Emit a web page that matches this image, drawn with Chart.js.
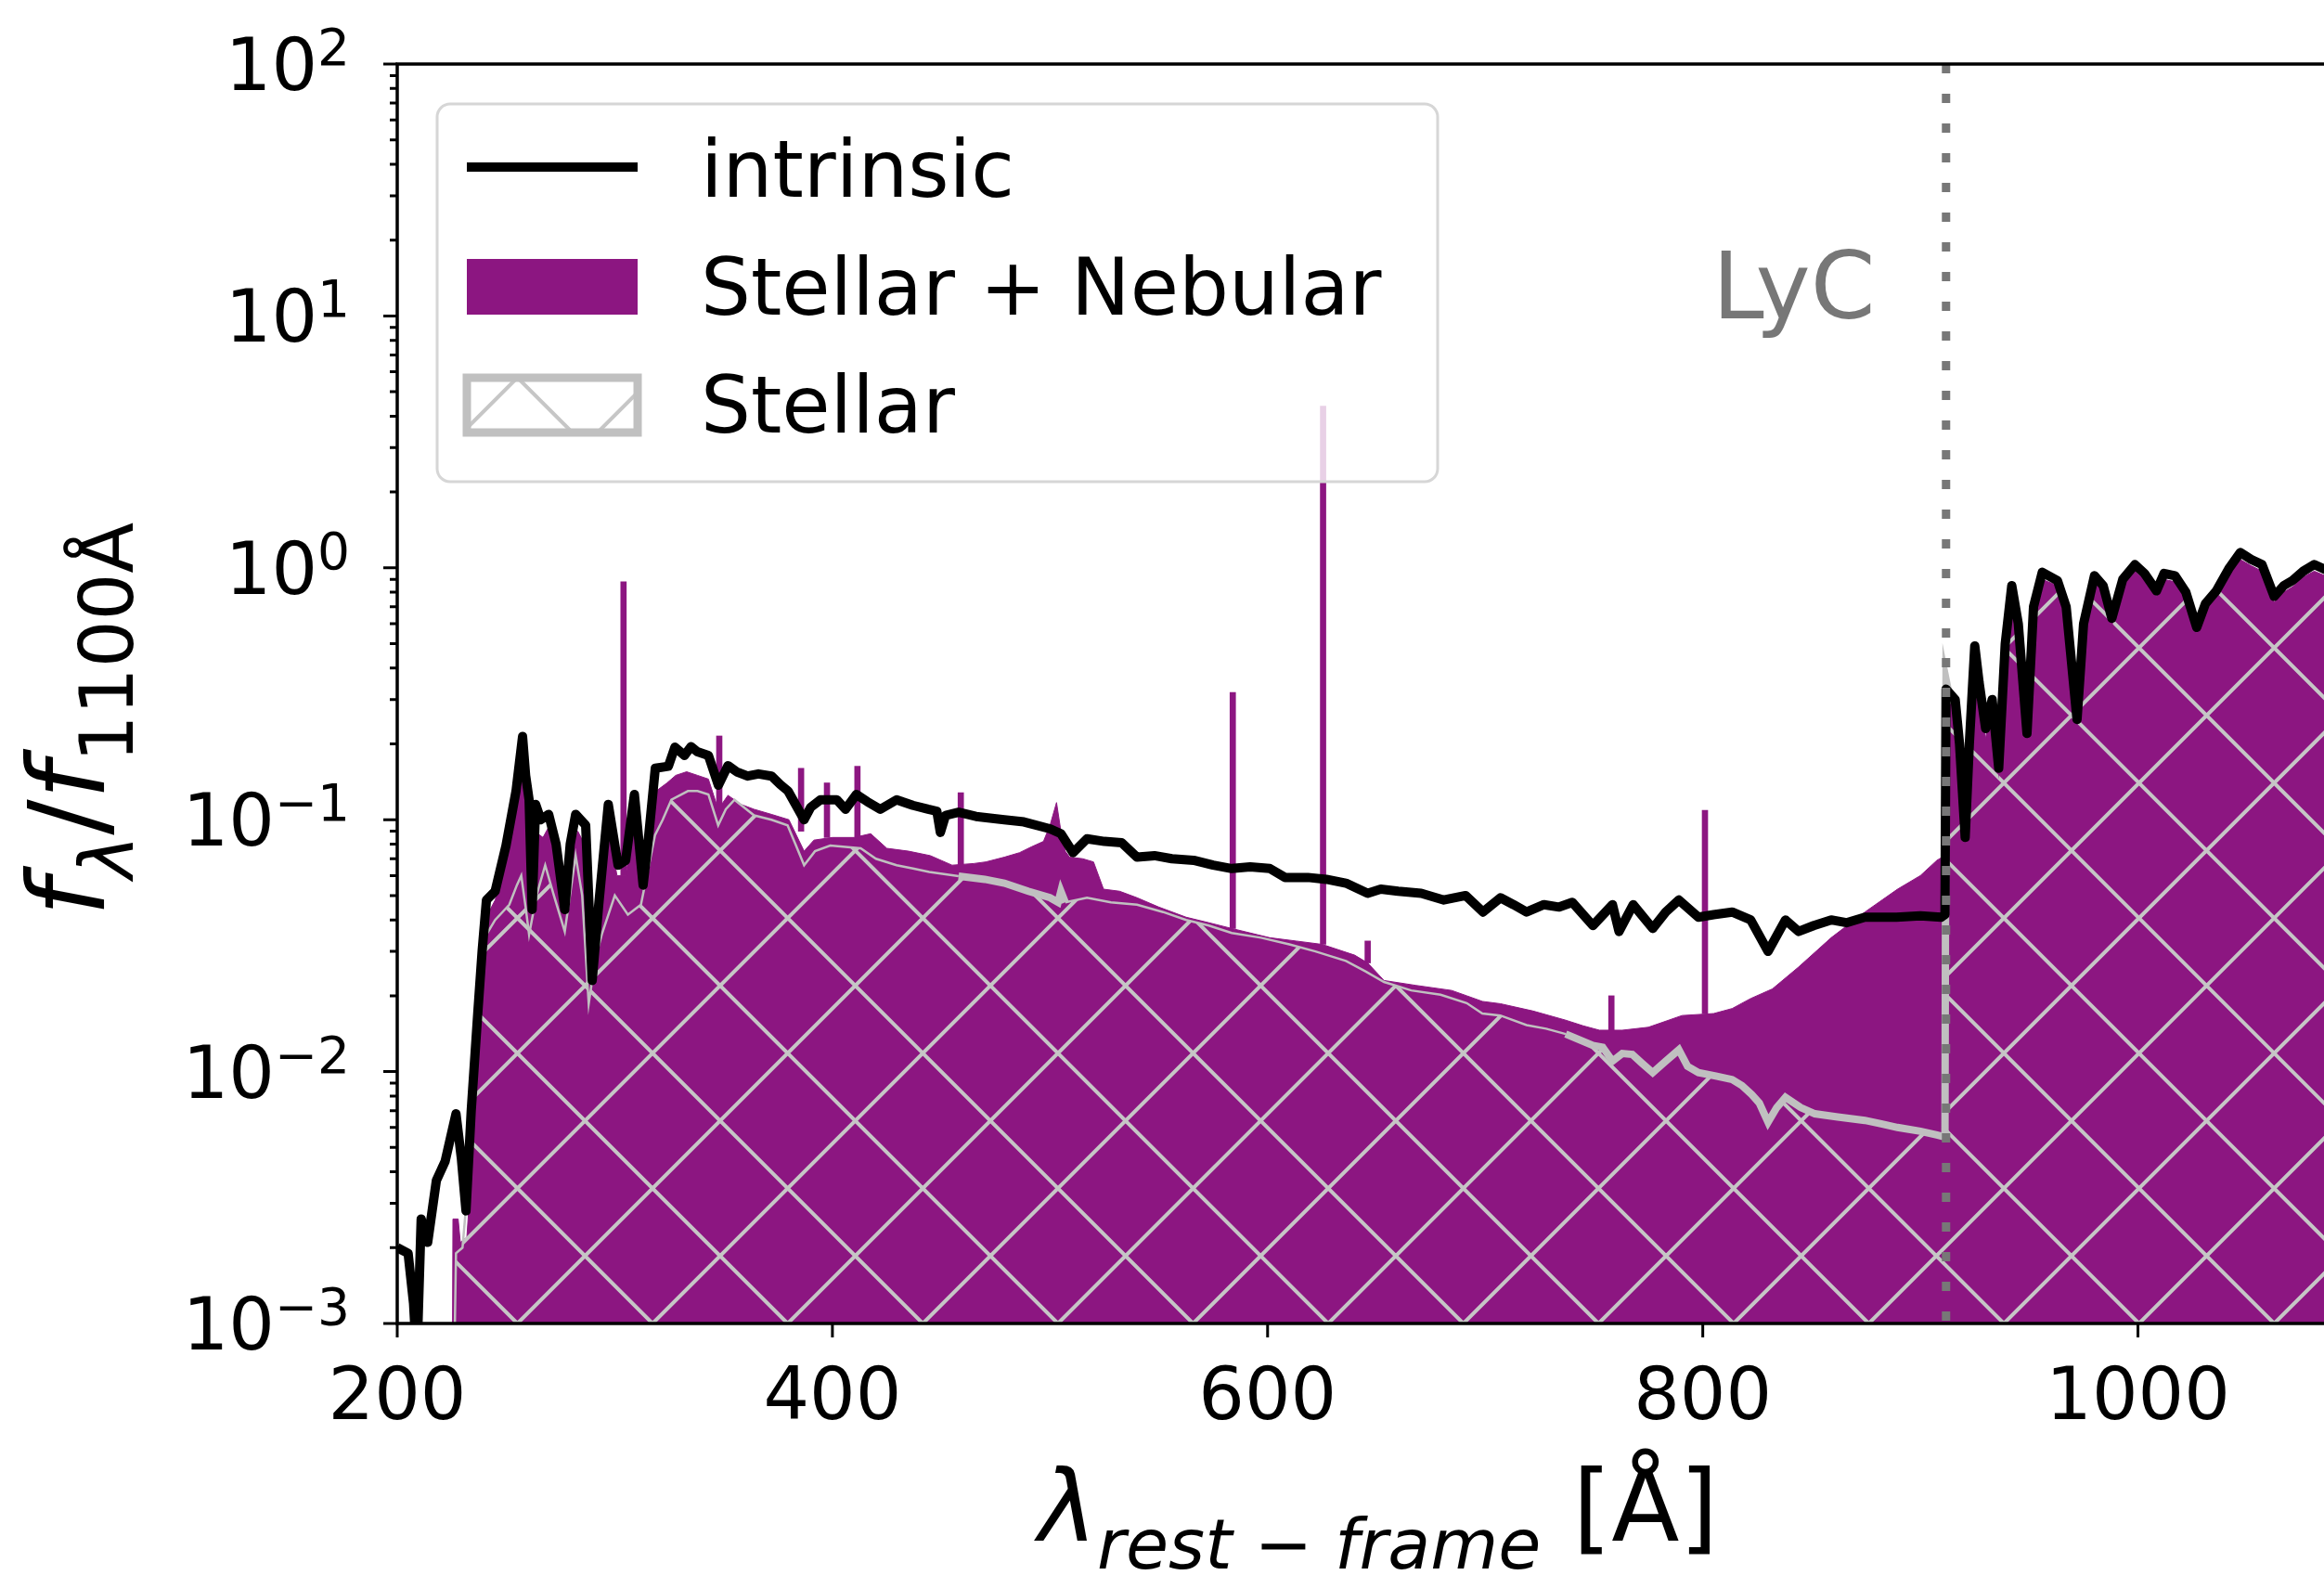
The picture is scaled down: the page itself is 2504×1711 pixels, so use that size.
<!DOCTYPE html>
<html>
<head>
<meta charset="utf-8">
<script src="https://cdn.jsdelivr.net/npm/chart.js@4"></script>
<style>
html, body { margin: 0; padding: 0; background: #fff; overflow: hidden; }
#wrap { position: relative; width: 2560px; height: 1711px; }
</style>
</head>
<body>
<div id="wrap"><canvas id="sed"></canvas></div>
<script>
// [wavelength in Angstrom, f_lambda / f_1100]
const intrinsic = [
  [200,0.0020],[205,0.0019],[207.5,0.0012],[209,0.0007],[211,0.0026],[214,0.0021],[218,0.0037],[222,0.0044],
  [227,0.0068],[229.5,0.0045],[231.6,0.0028],[234,0.0070],[237,0.017],[239,0.030],[241,0.048],[245,0.052],
  [250,0.079],[254.6,0.13],[257.6,0.214],[259,0.15],[260.6,0.12],[262,0.044],[263.6,0.115],[266,0.10],
  [269.6,0.105],[273,0.08],[277,0.044],[279.5,0.08],[282,0.105],[286.6,0.095],[289.6,0.023],[292.6,0.046],
  [297,0.115],[301.5,0.066],[305,0.069],[309,0.126],[313,0.055],[315.6,0.087],[318.6,0.16],[324.6,0.163],
  [327.6,0.194],[332,0.18],[335,0.195],[338,0.186],[343,0.18],[347.6,0.137],[352,0.164],[356,0.155],
  [361,0.149],[366,0.152],[372,0.149],[376,0.138],[379.6,0.130],[387,0.10],[390,0.112],[394.5,0.12],
  [402,0.12],[406,0.11],[411,0.126],[416,0.118],[422,0.11],[429.5,0.12],[437,0.114],[444,0.110],
  [448,0.108],[449.6,0.089],[452,0.104],[458,0.107],[466,0.103],[479,0.10],[488,0.098],[500,0.092],
  [505,0.088],[510.6,0.074],[517,0.084],[525,0.082],[533,0.081],[540,0.071],[548,0.072],[556,0.070],
  [566,0.069],[575,0.066],[583.5,0.064],[592,0.065],[601,0.064],[608,0.059],[618.5,0.059],[627,0.058],
  [636,0.056],[646,0.051],[652,0.053],[660,0.052],[670.6,0.051],[681,0.048],[691,0.050],[699,0.043],
  [707,0.049],[713,0.046],[719,0.043],[727,0.046],[734,0.045],[740,0.047],[749.5,0.038],[758.5,0.046],
  [761.5,0.036],[768,0.046],[777,0.037],[783,0.043],[789,0.048],[798,0.041],[805,0.042],[813.5,0.043],
  [822,0.040],[830,0.030],[838,0.040],[844,0.036],[851,0.038],[859,0.040],[866,0.039],[874.5,0.041],
  [889,0.041],[900,0.0415],[909.5,0.041],[911.3,0.042],[911.8,0.33],[916,0.30],[918,0.20],[920.6,0.085],
  [922.5,0.2],[925,0.49],[927,0.35],[930,0.23],[933,0.3],[936,0.16],[939,0.5],[942,0.85],
  [945,0.6],[949,0.22],[952,0.7],[956,0.96],[963,0.89],[967,0.7],[972,0.25],[975,0.6],
  [980,0.93],[984,0.85],[988,0.63],[993,0.9],[998.6,1.03],[1003,0.95],[1008.5,0.81],[1012,0.95],
  [1017,0.93],[1022,0.8],[1027,0.58],[1031,0.72],[1036,0.81],[1042,1.0],[1047,1.15],[1052,1.08],
  [1057,1.03],[1062.6,0.77],[1067,0.85],[1071,0.89],[1076,0.97],[1081,1.03],[1090,0.95],[1100,1.0]
];

// stellar + nebular continuum (purple area)
const stellarNebular = [
  [225.4,0.001],[225.6,0.0026],[228,0.0026],[229,0.0021],[232,0.0022],[234,0.004],[236,0.013],[239,0.028],
  [241.5,0.042],[245,0.048],[250,0.07],[254,0.11],[257,0.17],[259,0.12],[261,0.05],[263,0.09],
  [267,0.085],[270,0.095],[273,0.07],[277,0.045],[280,0.075],[283,0.09],[286,0.08],[289,0.025],
  [292,0.042],[297,0.095],[301,0.06],[305,0.06],[309,0.1],[313,0.05],[316,0.08],[319,0.13],
  [324,0.14],[328,0.15],[333,0.155],[338,0.15],[343,0.145],[347.5,0.11],[352,0.125],[358,0.115],
  [364,0.11],[372,0.105],[380,0.10],[387,0.075],[391.5,0.083],[400,0.085],[410,0.085],[417.6,0.088],
  [425,0.077],[435,0.075],[445,0.072],[455,0.066],[465,0.067],[470.5,0.068],[479,0.071],[486,0.074],
  [491.4,0.078],[497,0.082],[500,0.095],[503,0.117],[505,0.09],[507,0.075],[509,0.071],[515,0.07],
  [520,0.068],[524.6,0.053],
  [532,0.052],[540,0.049],[550,0.045],[562.6,0.041],[573,0.039],[583.5,0.037],[601,0.034],[613,0.033],
  [625,0.032],[640,0.029],[646,0.027],[653.5,0.023],[668,0.022],[684.6,0.021],[691.5,0.020],[698.7,0.019],
  [707,0.0186],[722,0.0174],[737,0.016],[745,0.0152],[752.5,0.0146],[763,0.0146],[775,0.015],[790.5,0.0167],
  [805,0.017],[813.5,0.0178],[822,0.0195],[832,0.0213],[844,0.026],[859,0.034],[874.5,0.043],[889.5,0.053],
  [900,0.060],[907.6,0.069],[911.3,0.072],[911.8,0.39],[914,0.30],[917,0.28],[920,0.12],[922.5,0.19],
  [925,0.45],[928,0.3],[930,0.21],[933,0.28],[936,0.15],[939,0.45],[942,0.8],[945,0.55],
  [949,0.21],[952,0.65],[956,0.9],[963,0.85],[967,0.66],[972,0.24],[975,0.56],[980,0.88],
  [984,0.8],[988,0.6],[993,0.85],[998.6,0.97],[1003,0.9],[1008.5,0.77],[1012,0.9],[1017,0.88],
  [1022,0.75],[1027,0.55],[1031,0.68],[1036,0.77],[1042,0.95],[1047,1.08],[1052,1.02],[1057,0.97],
  [1062.6,0.73],[1067,0.8],[1071,0.84],[1076,0.92],[1081,0.97],[1090,0.9],[1100,0.95]
];

// nebular emission lines: [wavelength, base, peak]
const emissionLines = [
  [304,0.06,0.88],[348,0.11,0.215],[385.6,0.09,0.16],[397.5,0.085,0.14],[411.5,0.085,0.163],
  [459,0.066,0.128],[584,0.037,0.32],[625.5,0.032,4.38],[646,0.027,0.033],[758,0.0146,0.02],[801,0.017,0.109]
];

// stellar only (hatched area)
const stellar = [
  [226.5,0.001],[227,0.0019],[230,0.0020],[233,0.004],[236,0.0118],[238.5,0.022],[241,0.035],[245,0.04],
  [251.5,0.046],[255,0.055],[257,0.06],[259,0.045],[260.6,0.035],[264,0.05],[268,0.066],[272,0.05],
  [277,0.036],[282,0.072],[285,0.05],[288,0.0186],[291,0.028],[294,0.035],[300,0.050],[306,0.042],
  [312,0.046],[318.5,0.087],[322,0.10],[326,0.12],[333.6,0.13],[338,0.13],[343,0.126],[347.5,0.095],
  [351,0.11],[355,0.12],[364,0.104],[372,0.10],[379.4,0.095],[383,0.08],[387,0.066],[392,0.075],
  [399,0.079],[413,0.077],[420,0.07],[429.5,0.066],[437,0.064],[444.5,0.062],[458,0.0597],[470,0.058],
  [479,0.056],[490,0.052],[500,0.049],[503.7,0.047],[505,0.052],[507,0.047],[517,0.049],[528,0.047],
  [540,0.046],[552,0.043],[562.6,0.040],[573,0.038],[583.5,0.0355],[597,0.034],[610,0.032],[622,0.030],
  [636,0.0275],[645,0.025],[653.5,0.0227],[666,0.021],[679.5,0.0202],[691.5,0.0187],[698.7,0.017],[707,0.0167],
  [719,0.0153],[728,0.0148],[737,0.0141],[749.5,0.0127],[754,0.0125],[758.5,0.011],[763,0.0118],[767.6,0.0117],
  [772,0.0108],[777,0.0099],[783,0.011],[789,0.0122],[793,0.0105],[798,0.0099],[806,0.0096],[813.5,0.0093],
  [818,0.0088],[822.5,0.0081],[826,0.0075],[830,0.0063],[834,0.0072],[838,0.0079],[845,0.0072],[851.5,0.0068],
  [862,0.0066],[874.5,0.0064],[882,0.0062],[889.5,0.006],[900,0.0058],[907.6,0.0056],[911.3,0.0055],[911.8,0.36],
  [914,0.29],[917,0.27],[920,0.11],[922.5,0.18],[925,0.43],[928,0.29],[930,0.2],[933,0.27],
  [936,0.145],[939,0.43],[942,0.78],[945,0.53],[949,0.2],[952,0.63],[956,0.88],[963,0.83],
  [967,0.64],[972,0.23],[975,0.54],[980,0.86],[984,0.78],[988,0.58],[993,0.83],[998.6,0.95],
  [1003,0.88],[1008.5,0.75],[1012,0.88],[1017,0.86],[1022,0.73],[1027,0.53],[1031,0.66],[1036,0.75],
  [1042,0.93],[1047,1.06],[1052,1.0],[1057,0.95],[1062.6,0.71],[1067,0.78],[1071,0.82],[1076,0.9],
  [1081,0.95],[1090,0.88],[1100,0.93]
];

const xTicks = [200, 400, 600, 800, 1000];
const yDecades = [1e2, 1e1, 1e0, 1e-1, 1e-2, 1e-3];
const yExponents = ['2', '1', '0', '\u22121', '\u22122', '\u22123'];
const lymanLimit = 911.8;
const legendLabels = ['intrinsic', 'Stellar + Nebular', 'Stellar'];

const PURPLE = '#8c1681';
const HATCH = '#c6c6c6';
const GREY_LINE = '#c0c0c0';
const FONT = 'DejaVu Sans';

function toXY(arr) {
  return arr.map(p => ({x: p[0], y: p[1]}));
}

// matplotlib-like 'x' hatch, anchored to the page so that all patches share it
function hatchLines(ctx, x0, y0, x1, y1) {
  const step = 145.6, a0 = 1983.5, b0 = -868.5;
  ctx.beginPath();
  const kMin = Math.floor((x0 + y0 - a0) / step) - 1, kMax = Math.ceil((x1 + y1 - a0) / step) + 1;
  for (let k = kMin; k <= kMax; k++) {
    const c = a0 + k * step;
    ctx.moveTo(c - y0, y0);
    ctx.lineTo(c - y1, y1);
  }
  const mMin = Math.floor((x0 - y1 - b0) / step) - 1, mMax = Math.ceil((x1 - y0 - b0) / step) + 1;
  for (let m = mMin; m <= mMax; m++) {
    const c = b0 + m * step;
    ctx.moveTo(c + y0, y0);
    ctx.lineTo(c + y1, y1);
  }
  ctx.stroke();
}

// draw a row of text runs with different fonts / vertical shifts
function drawRuns(ctx, runs, x, y) {
  let total = 0;
  runs.forEach(r => { ctx.font = r.font; r.w = ctx.measureText(r.text).width; total += r.w; });
  let cx = x - total / 2;
  ctx.textAlign = 'left';
  ctx.textBaseline = 'alphabetic';
  runs.forEach(r => {
    ctx.font = r.font;
    ctx.fillText(r.text, cx, y + (r.dy || 0));
    cx += r.w;
  });
}

const hatchPlugin = {
  id: 'hatch',
  beforeDatasetDraw(chart, args) {
    if (chart.data.datasets[args.index].label !== 'Stellar') return;
    const pts = args.meta.data, a = chart.chartArea, ctx = chart.ctx;
    ctx.save();
    ctx.beginPath();
    ctx.rect(a.left, a.top, a.right - a.left, a.bottom - a.top);
    ctx.clip();
    ctx.beginPath();
    ctx.moveTo(pts[0].x, a.bottom);
    pts.forEach(p => ctx.lineTo(p.x, Math.min(p.y, a.bottom)));
    ctx.lineTo(pts[pts.length - 1].x, a.bottom);
    ctx.closePath();
    ctx.clip();
    ctx.strokeStyle = HATCH;
    ctx.lineWidth = 4;
    hatchLines(ctx, a.left, a.top, a.right, a.bottom);
    ctx.restore();
  }
};

const decorPlugin = {
  id: 'decor',
  afterDatasetsDraw(chart) {
    const ctx = chart.ctx, a = chart.chartArea, xs = chart.scales.x;
    const lx = xs.getPixelForValue(lymanLimit);
    ctx.save();
    ctx.strokeStyle = '#777';
    ctx.lineWidth = 9;
    ctx.setLineDash([10, 22]);
    ctx.beginPath();
    ctx.moveTo(lx, a.top);
    ctx.lineTo(lx, a.bottom);
    ctx.stroke();
    ctx.setLineDash([]);
    ctx.fillStyle = '#777';
    ctx.font = '100px ' + FONT;
    ctx.textAlign = 'left';
    ctx.textBaseline = 'alphabetic';
    ctx.fillText('LyC', 1845, 343);
    ctx.restore();
  },
  afterDraw(chart) {
    const ctx = chart.ctx, a = chart.chartArea, ys = chart.scales.y, xs = chart.scales.x;
    ctx.save();
    // spines
    ctx.strokeStyle = '#000';
    ctx.lineWidth = 3.5;
    ctx.strokeRect(a.left, a.top, a.right - a.left, a.bottom - a.top);
    // y ticks (major + minor) and x ticks
    ctx.lineWidth = 3;
    ctx.beginPath();
    for (let e = -3; e <= 2; e++) {
      for (let m = 1; m <= 9; m++) {
        const v = m * Math.pow(10, e);
        if (v > 100.0001) break;
        const py = ys.getPixelForValue(v);
        ctx.moveTo(a.left, py);
        ctx.lineTo(a.left - (m === 1 ? 15 : 8), py);
      }
    }
    xTicks.forEach(v => {
      const px = xs.getPixelForValue(v);
      ctx.moveTo(px, a.bottom);
      ctx.lineTo(px, a.bottom + 15);
    });
    ctx.stroke();
    // y tick labels 10^n
    ctx.fillStyle = '#000';
    ctx.textAlign = 'left';
    ctx.textBaseline = 'alphabetic';
    yDecades.forEach((v, i) => {
      const py = ys.getPixelForValue(v);
      ctx.font = '55px ' + FONT;
      const sw = ctx.measureText(yExponents[i]).width;
      ctx.font = '78px ' + FONT;
      const bw = ctx.measureText('10').width;
      const right = 377;
      ctx.fillText('10', right - sw - bw, py + 28);
      ctx.font = '55px ' + FONT;
      ctx.fillText(yExponents[i], right - sw, py + 1);
    });
    // axis titles
    drawRuns(ctx, [
      {text: '\u03bb', font: 'italic 107px ' + FONT},
      {text: 'rest \u2212 frame', font: 'italic 75px ' + FONT, dy: 30},
      {text: ' [\u00c5]', font: '107px ' + FONT}
    ], 1485, 1660);
    ctx.save();
    ctx.translate(112, 775);
    ctx.rotate(-Math.PI / 2);
    drawRuns(ctx, [
      {text: 'f', font: 'italic 114px ' + FONT},
      {text: '\u03bb', font: 'italic 80px ' + FONT, dy: 31},
      {text: '/', font: '114px ' + FONT},
      {text: 'f', font: 'italic 114px ' + FONT},
      {text: '1100\u00c5', font: '80px ' + FONT, dy: 31}
    ], 0, 0);
    ctx.restore();
    // legend
    ctx.beginPath();
    ctx.roundRect(471, 112, 1078, 407, 14);
    ctx.fillStyle = 'rgba(255,255,255,0.8)';
    ctx.fill();
    ctx.strokeStyle = '#d6d6d6';
    ctx.lineWidth = 3;
    ctx.stroke();
    ctx.strokeStyle = '#000';
    ctx.lineWidth = 10;
    ctx.beginPath();
    ctx.moveTo(503, 180);
    ctx.lineTo(687, 180);
    ctx.stroke();
    ctx.fillStyle = PURPLE;
    ctx.fillRect(503, 279, 184, 60);
    ctx.save();
    ctx.beginPath();
    ctx.rect(503, 407, 184, 59);
    ctx.clip();
    ctx.strokeStyle = HATCH;
    ctx.lineWidth = 4;
    hatchLines(ctx, 503, 407, 687, 466);
    ctx.restore();
    ctx.strokeStyle = GREY_LINE;
    ctx.lineWidth = 9;
    ctx.strokeRect(503, 407, 184, 59);
    ctx.fillStyle = '#000';
    ctx.font = '85px ' + FONT;
    ctx.textAlign = 'left';
    ctx.textBaseline = 'alphabetic';
    [212, 339, 466].forEach((by, i) => ctx.fillText(legendLabels[i], 755, by));
    ctx.restore();
  }
};

new Chart(document.getElementById('sed'), {
  type: 'line',
  data: {
    datasets: [
      {
        label: 'intrinsic',
        data: toXY(intrinsic),
        borderColor: '#000',
        borderWidth: 10,
        borderJoinStyle: 'round',
        pointRadius: 0,
        fill: false,
        order: 1
      },
      {
        label: 'Stellar',
        data: toXY(stellar),
        borderColor: GREY_LINE,
        borderWidth: 2.5,
        pointRadius: 0,
        fill: false,
        order: 2,
        segment: {
          borderWidth: c => {
            const x = c.p0.parsed.x;
            return (x >= 455 && x < 507) || (x >= 735 && x < 912) ? 8 : 2.5;
          },
          borderColor: c => c.p0.parsed.x >= 912 ? 'rgba(0,0,0,0)' : GREY_LINE
        }
      },
      {
        type: 'bar',
        label: 'emission lines',
        data: emissionLines.map(l => ({x: l[0], y: [l[1], l[2]]})),
        backgroundColor: PURPLE,
        borderWidth: 0,
        barThickness: 6,
        grouped: false,
        order: 3
      },
      {
        label: 'Stellar + Nebular',
        data: toXY(stellarNebular),
        borderColor: PURPLE,
        borderWidth: 1,
        backgroundColor: PURPLE,
        pointRadius: 0,
        fill: 'start',
        order: 4
      }
    ]
  },
  options: {
    responsive: true,
    maintainAspectRatio: false,
    devicePixelRatio: 1,
    animation: false,
    events: [],
    layout: { padding: { top: 69, right: 22, left: 0, bottom: 0 } },
    plugins: { legend: { display: false }, tooltip: { enabled: false } },
    scales: {
      x: {
        type: 'linear',
        min: 200,
        max: 1100,
        offset: false,
        grid: { display: false, drawTicks: false },
        border: { display: false },
        afterBuildTicks: s => { s.ticks = xTicks.map(v => ({value: v})); },
        ticks: {
          autoSkip: false,
          maxRotation: 0,
          padding: 36,
          color: '#000',
          font: { family: FONT, size: 78 },
          callback: v => String(v)
        },
        afterFit: s => { s.height = 285; }
      },
      y: {
        type: 'logarithmic',
        min: 1e-3,
        max: 1e2,
        grid: { display: false, drawTicks: false },
        border: { display: false },
        ticks: { display: false },
        afterFit: s => { s.width = 428; }
      }
    }
  },
  plugins: [hatchPlugin, decorPlugin]
});
</script>
</body>
</html>
